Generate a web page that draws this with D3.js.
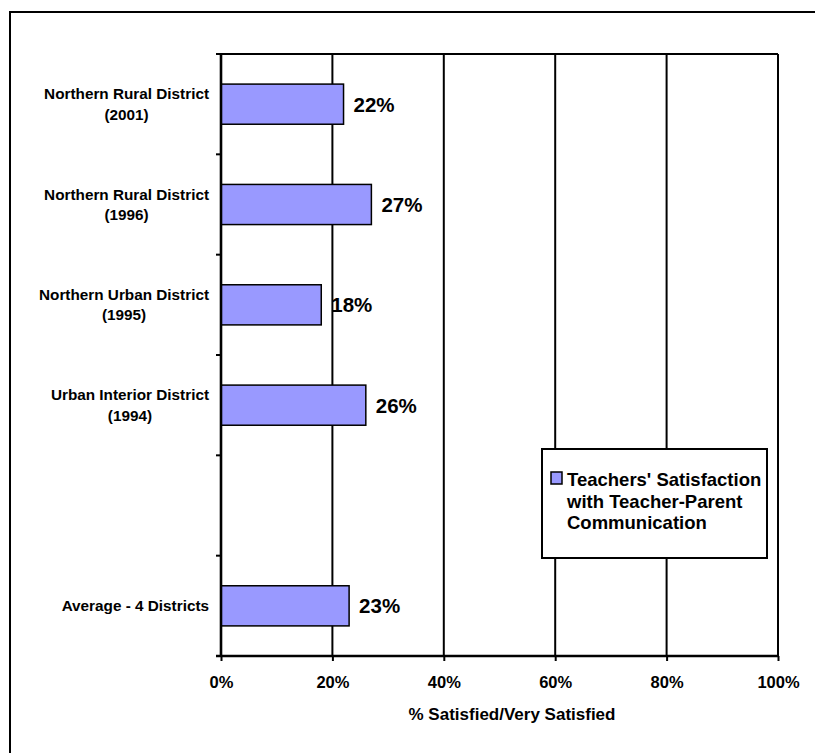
<!DOCTYPE html>
<html>
<head>
<meta charset="utf-8">
<script src="https://cdn.jsdelivr.net/npm/d3@7/dist/d3.min.js"></script>
<style>
  html, body { margin: 0; padding: 0; background: #fff; }
  svg { display: block; }
  text { font-family: "Liberation Sans", Arial, sans-serif; font-weight: bold; fill: #000; }
</style>
</head>
<body>
<svg id="chart" width="815" height="753"></svg>
<script>
// ---- data ----
const categories = [
  ["Northern Rural District", "(2001)"],
  ["Northern Rural District", "(1996)"],
  ["Northern Urban District", "(1995)"],
  ["Urban Interior District", "(1994)"],
  [],
  ["Average - 4 Districts"]
];
const categoryKeys = ["nr2001", "nr1996", "nu1995", "ui1994", "blank", "avg"];
const values = [22, 27, 18, 26, null, 23];
const xTicks = [0, 20, 40, 60, 80, 100];
const xTitle = "% Satisfied/Very Satisfied";
const legendLines = ["Teachers' Satisfaction", "with Teacher-Parent", "Communication"];

// ---- layout ----
const svg = d3.select("#chart");
const plot = { left: 221, right: 778, top: 54, bottom: 656 };
const barColor = "#9999FF";

// outer frame (extends past the window on right/bottom)
svg.append("rect")
  .attr("x", 10).attr("y", 12).attr("width", 830).attr("height", 780)
  .attr("fill", "none").attr("stroke", "#000").attr("stroke-width", 2);

const x = d3.scaleLinear().domain([0, 100]).range([plot.left, plot.right]);
const y = d3.scaleBand().domain(categoryKeys).range([plot.top, plot.bottom])
  .paddingInner(0.6).paddingOuter(0.3);

// gridlines
svg.append("g").selectAll("line").data(xTicks.filter(d => d > 0)).join("line")
  .attr("x1", d => x(d)).attr("x2", d => x(d))
  .attr("y1", plot.top).attr("y2", plot.bottom)
  .attr("stroke", "#000").attr("stroke-width", 2);

// plot top border
svg.append("line")
  .attr("x1", plot.left).attr("x2", plot.right)
  .attr("y1", plot.top).attr("y2", plot.top)
  .attr("stroke", "#000").attr("stroke-width", 2);

// bars
const data = categoryKeys.map((k, i) => ({ key: k, value: values[i], label: categories[i] }));
svg.append("g").selectAll("rect").data(data.filter(d => d.value != null)).join("rect")
  .attr("x", x(0))
  .attr("y", d => y(d.key))
  .attr("width", d => x(d.value) - x(0))
  .attr("height", y.bandwidth())
  .attr("fill", barColor)
  .attr("stroke", "#000").attr("stroke-width", 1.5);

// value labels
svg.append("g").selectAll("text").data(data.filter(d => d.value != null)).join("text")
  .attr("x", d => x(d.value) + 10)
  .attr("y", d => y(d.key) + y.bandwidth() / 2 + 7.5)
  .attr("font-size", 20.5)
  .text(d => d.value + "%");

// y axis line and ticks at band boundaries
const step = y.step();
const yStart = plot.top;
svg.append("g").selectAll("line").data(d3.range(categoryKeys.length + 1)).join("line")
  .attr("x1", plot.left - 5).attr("x2", plot.left)
  .attr("y1", i => yStart + i * step).attr("y2", i => yStart + i * step)
  .attr("stroke", "#000").attr("stroke-width", 2);
svg.append("line")
  .attr("x1", plot.left).attr("x2", plot.left)
  .attr("y1", plot.top - 1).attr("y2", plot.bottom + 1)
  .attr("stroke", "#000").attr("stroke-width", 2.6);

// category labels
const labelRight = 209;
data.forEach(d => {
  if (!d.label.length) return;
  const c = y(d.key) + y.bandwidth() / 2;
  const g = svg.append("g");
  const n = d.label.length;
  d.label.forEach((line, j) => {
    const base = n === 1 ? c + 5 : c - 5 + j * 20.5;
    g.append("text").attr("x", 0).attr("y", base)
      .attr("text-anchor", "middle").attr("font-size", 15.3).text(line);
  });
  const bb = g.node().getBBox();
  g.attr("transform", `translate(${labelRight - bb.width / 2},0)`);
});

// x axis
const xAxis = d3.axisBottom(x).tickValues(xTicks).tickFormat(d => d + "%").tickSize(5).tickPadding(16);
const gx = svg.append("g").attr("transform", `translate(0,${plot.bottom})`).call(xAxis);
gx.select(".domain").attr("stroke", "#000").attr("stroke-width", 2.6)
  .attr("d", `M${plot.left - 5},0H${plot.right}`);
gx.selectAll(".tick line").attr("stroke", "#000").attr("stroke-width", 2);
gx.selectAll(".tick text")
  .attr("font-size", 16.5).attr("font-family", "'Liberation Sans', Arial, sans-serif")
  .attr("font-weight", "bold").attr("fill", "#000").attr("dy", null).attr("y", 32);

// x axis title
svg.append("text")
  .attr("x", 512).attr("y", 720).attr("text-anchor", "middle")
  .attr("font-size", 17).text(xTitle);

// legend
const lg = svg.append("g");
lg.append("rect").attr("x", 542).attr("y", 449).attr("width", 225).attr("height", 109)
  .attr("fill", "#fff").attr("stroke", "#000").attr("stroke-width", 2);
lg.append("rect").attr("x", 551).attr("y", 472).attr("width", 11).attr("height", 12)
  .attr("fill", barColor).attr("stroke", "#000").attr("stroke-width", 1.5);
lg.selectAll("text.leg").data(legendLines).join("text").attr("class", "leg")
  .attr("x", 567).attr("y", (d, i) => 486 + i * 21.5)
  .attr("font-size", 18.5).text(d => d);
</script>
</body>
</html>
